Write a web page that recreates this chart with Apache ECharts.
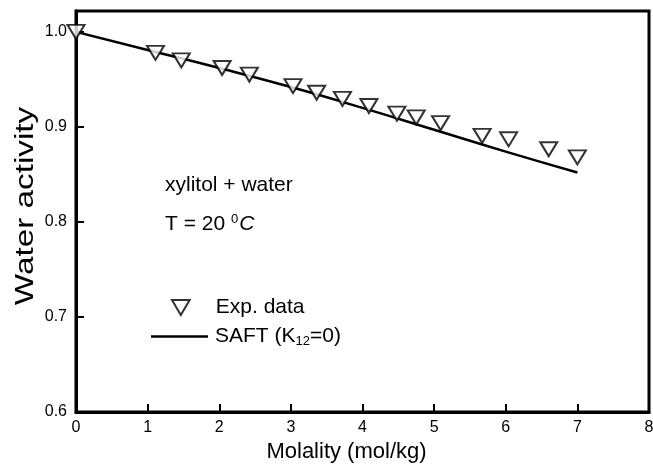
<!DOCTYPE html>
<html>
<head>
<meta charset="utf-8">
<script src="https://cdn.jsdelivr.net/npm/echarts@6/dist/echarts.min.js"></script>
<style>
  html, body { margin: 0; padding: 0; background: #fff; }
  #chart { width: 653px; height: 464px; }
</style>
</head>
<body>
<div id="chart"></div>
<script>
// experimental points (molality, water activity)
const expMolality = [0, 1.11, 1.47, 2.04, 2.42, 3.03, 3.36, 3.72, 4.09, 4.48, 4.75, 5.09, 5.67, 6.04, 6.6, 7.0];
const expActivity = [1.0, 0.978, 0.970, 0.962, 0.955, 0.943, 0.936, 0.9295, 0.922, 0.914, 0.910, 0.904, 0.8905, 0.887, 0.8765, 0.868];
// SAFT (K12=0) curve
const saftMolality = [0, 1, 2, 3, 4, 5, 6, 7];
const saftActivity = [1.0, 0.981, 0.962, 0.942, 0.920, 0.897, 0.874, 0.852];
const xTicks = [0, 1, 2, 3, 4, 5, 6, 7, 8];
const yTicks = [0.6, 0.7, 0.8, 0.9, 1.0];

const font = "Liberation Sans, Arial, sans-serif";
const downTriangle = "path://M0,0 L20,0 L10,17 Z";
const chart = echarts.init(document.getElementById("chart"));

const pair = (xs, ys) => xs.map((x, i) => [x, ys[i]]);

chart.setOption({
  animation: false,
  backgroundColor: "#fff",
  grid: {
    left: 76,
    right: 4,
    top: 11,
    bottom: 52,
    outerBoundsMode: "none",
    containLabel: false,
    show: true,
    borderColor: "#000",
    borderWidth: 3,
  },
  xAxis: {
    type: "value",
    min: xTicks[0],
    max: xTicks[xTicks.length - 1],
    interval: 1,
    name: "Molality (mol/kg)",
    nameLocation: "middle",
    nameGap: 29,
    nameTextStyle: { fontFamily: font, fontSize: 22, color: "#000", padding: [0, 32, 0, 0] },
    axisLine: { lineStyle: { color: "#000", width: 3 } },
    axisTick: { inside: true, length: 8, lineStyle: { color: "#000", width: 2 } },
    axisLabel: { fontFamily: font, fontSize: 16, color: "#000", margin: 8 },
    splitLine: { show: false },
  },
  yAxis: {
    type: "value",
    min: yTicks[0],
    max: 1.022,
    interval: 0.1,
    axisLine: { lineStyle: { color: "#000", width: 3 } },
    axisTick: { inside: true, length: 8, lineStyle: { color: "#000", width: 2 } },
    axisLabel: {
      fontFamily: font,
      fontSize: 16,
      color: "#000",
      margin: 9,
      showMaxLabel: false,
      formatter: (v) => (Math.abs(v * 10 - Math.round(v * 10)) < 1e-6 ? v.toFixed(1) : ""),
    },
    splitLine: { show: false },
  },
  legend: [
    {
      data: [{ name: "Exp. data", icon: downTriangle }],
      left: 171,
      top: 297,
      padding: 0,
      itemWidth: 18,
      itemHeight: 15,
      itemStyle: { color: "#fff", borderColor: "#000", borderWidth: 2 },
      textStyle: { fontFamily: font, fontSize: 21, color: "#000", padding: [0, 0, 0, 21] },
    },
    {
      data: [{ name: "SAFT", icon: "rect" }],
      left: 151,
      top: 326,
      padding: 0,
      itemWidth: 57,
      itemHeight: 2.5,
      itemStyle: { color: "#000" },
      formatter: () => "SAFT (K{sub|12}=0)",
      textStyle: {
        fontFamily: font,
        fontSize: 21,
        color: "#000",
        padding: [0, 0, 0, 2],
        rich: {
          sub: { fontFamily: font, fontSize: 13, color: "#000", padding: [10, 0, 0, 0] },
        },
      },
    },
  ],
  graphic: [
    {
      // y axis title, drawn a little stretched like the original
      type: "text",
      x: 13,
      y: 206,
      rotation: Math.PI / 2,
      scaleX: 1.28,
      style: {
        text: "Water activity",
        font: "26px " + font,
        fill: "#000",
        align: "center",
        verticalAlign: "top",
      },
    },
    {
      type: "text",
      left: 165,
      top: 175,
      style: { text: "xylitol + water", font: "21px " + font, fill: "#000" },
    },
    {
      type: "text",
      left: 165,
      top: 213,
      style: {
        text: "T = 20 {sup|0}{it|C}",
        font: "21px " + font,
        fill: "#000",
        rich: {
          sup: { fontFamily: font, fontSize: 13, fill: "#000", padding: [0, 1, 10, 0] },
          it: { fontFamily: font, fontSize: 21, fontStyle: "italic", fill: "#000" },
        },
      },
    },
  ],
  series: [
    {
      name: "SAFT",
      type: "line",
      data: pair(saftMolality, saftActivity),
      smooth: true,
      showSymbol: false,
      symbol: "none",
      lineStyle: { color: "#000", width: 2.5 },
      itemStyle: { color: "#000" },
      z: 2,
    },
    {
      name: "Exp. data",
      type: "scatter",
      data: pair(expMolality, expActivity),
      symbol: "triangle",
      symbolRotate: 180,
      symbolSize: [17, 14],
      itemStyle: { color: "#fff", borderColor: "#000", borderWidth: 2 },
      z: 3,
    },
  ],
});
</script>
</body>
</html>
